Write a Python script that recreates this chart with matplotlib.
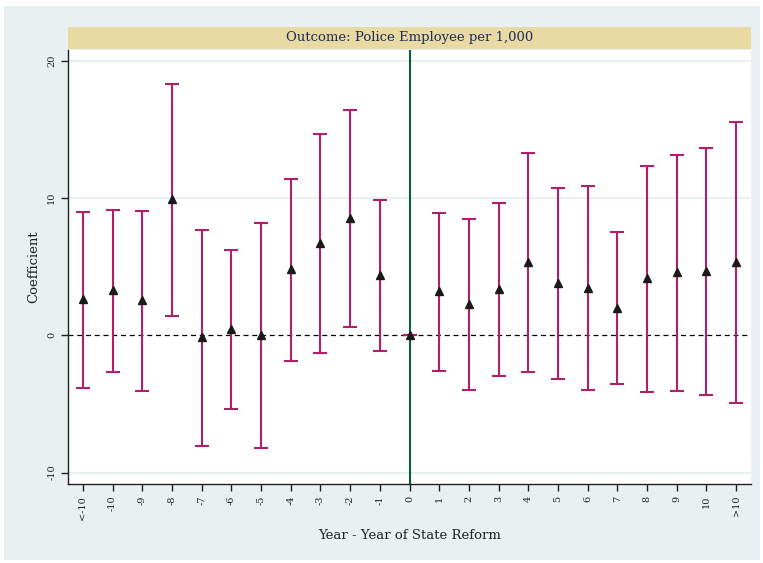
import matplotlib
matplotlib.use("Agg")
import matplotlib.pyplot as plt
from matplotlib.patches import Rectangle
import numpy as np

# Event-study coefficients with 95% confidence bounds
periods = ["<-10", "-10", "-9", "-8", "-7", "-6", "-5", "-4", "-3", "-2", "-1", "0",
           "1", "2", "3", "4", "5", "6", "7", "8", "9", "10", ">10"]
coef = [2.62, 3.28, 2.57, 9.93, -0.10, 0.48, 0.02, 4.80, 6.70, 8.52, 4.37, 0.0,
        3.23, 2.30, 3.37, 5.36, 3.79, 3.47, 2.01, 4.15, 4.59, 4.68, 5.36]
upper = [9.00, 9.10, 9.05, 18.30, 7.69, 6.21, 8.18, 11.40, 14.64, 16.39, 9.85, 0.0,
         8.93, 8.47, 9.61, 13.28, 10.75, 10.85, 7.50, 12.35, 13.10, 13.62, 15.54]
lower = [-3.82, -2.70, -4.06, 1.40, -8.08, -5.35, -8.20, -1.85, -1.27, 0.60, -1.17, 0.0,
         -2.62, -3.98, -2.96, -2.67, -3.20, -3.98, -3.57, -4.15, -4.06, -4.35, -4.93]
yticks = [-10, 0, 10, 20]

bg = "#E8F0F2"
band = "#E8DAA2"
navy = "#1F2D55"
bar_col = "#B21E6A"

plt.rcParams["font.family"] = ["DejaVu Serif"]

fig = plt.figure(figsize=(7.63, 5.63), dpi=100, facecolor="white")
W, H = 763, 563
fig.patches.append(Rectangle((4 / W, 3 / H), 756 / W, 554 / H, transform=fig.transFigure,
                             facecolor=bg, edgecolor="none", zorder=-10))
# Title band
fig.patches.append(Rectangle((68 / W, (H - 49) / H), 683 / W, 22 / H, transform=fig.transFigure,
                             facecolor=band, edgecolor="none", zorder=-5))
fig.text((68 + 751) / 2 / W, (H - 38) / H, "Outcome: Police Employee per 1,000",
         ha="center", va="center", fontsize=9.5, color=navy)

ax = fig.add_axes([68 / W, (H - 484) / H, 683 / W, 434 / H])
ax.set_facecolor("white")

x = np.arange(len(periods))
c = np.array(coef)
yerr = np.vstack([c - np.array(lower), np.array(upper) - c])
ax.errorbar(x, c, yerr=yerr, fmt="none", ecolor=bar_col, elinewidth=1.5,
            capsize=5, capthick=1.5, zorder=3)
ax.plot(x, c, linestyle="none", marker="^", markersize=5.5, color="#1a1a1a", zorder=4)

ax.axhline(0, color="black", linestyle=(0, (4, 3)), linewidth=0.9, zorder=2)
ax.axvline(periods.index("0"), color="#0E5A32", linewidth=1.5, zorder=2)

for yt in [-10, 10, 20]:
    ax.axhline(yt, color=bg, linewidth=1.5, zorder=1)

ax.set_xlim(-0.5, len(periods) - 0.5)
ax.set_ylim(-10.83, 20.78)
ax.set_xticks(x)
ax.set_xticklabels(periods, rotation=90, fontsize=7)
ax.set_yticks(yticks)
ax.set_yticklabels([str(v) for v in yticks], rotation=90, va="center", fontsize=7)
ax.tick_params(axis="both", length=5, width=1, color="#222222", labelcolor="#222222")

for s in ["top", "right"]:
    ax.spines[s].set_visible(False)
for s in ["left", "bottom"]:
    ax.spines[s].set_color("#222222")
    ax.spines[s].set_linewidth(1)

ax.set_ylabel("Coefficient", fontsize=9.5, color="#222222", labelpad=5)
ax.set_xlabel("Year - Year of State Reform", fontsize=9.5, color="#222222", labelpad=7)

fig.savefig("out.png", dpi=100, facecolor="white")
